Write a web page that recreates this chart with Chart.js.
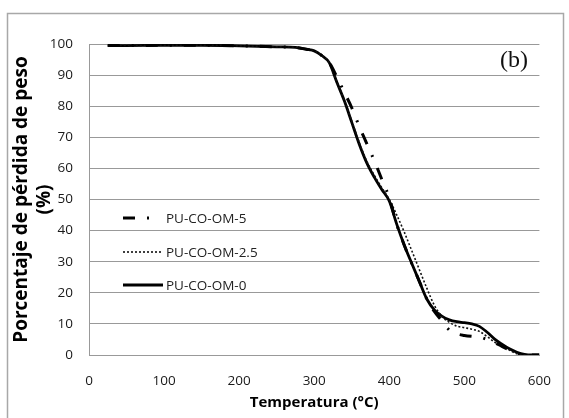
<!DOCTYPE html>
<html>
<head>
<meta charset="utf-8">
<script src="https://cdn.jsdelivr.net/npm/chart.js@4/dist/chart.umd.min.js"></script>
<style>
  html, body { margin: 0; padding: 0; background: #fff; }
  #wrap { width: 569px; height: 418px; }
</style>
</head>
<body>
<div id="wrap"><canvas id="c" width="569" height="418"></canvas></div>
<script>
// Temperature (°C)
const temps = [25, 50, 100, 150, 200, 250, 275, 290, 300, 310, 320, 330, 340, 350, 360, 370, 380, 390, 400, 410, 420, 430, 440, 450, 460, 470, 480, 490, 500, 510, 520, 530, 540, 550, 560, 570, 580, 590, 600];
// Porcentaje de pérdida de peso (%)
const om5  = [99.5, 99.5, 99.6, 99.6, 99.4, 99.1, 98.9, 98.3, 97.8, 96.3, 94, 89.5, 84.5, 79.5, 73.5, 68, 62.5, 56.5, 50.5, 42, 35.3, 29.4, 23.7, 18, 14, 11, 8, 6.8, 6.3, 6, 5.8, 5, 4, 2.8, 1.6, 0.6, 0, 0, 0];
const om25 = [99.5, 99.5, 99.6, 99.6, 99.4, 99.1, 98.9, 98.3, 97.8, 96.3, 94, 88, 82, 75.2, 68.3, 62.3, 57.8, 53.8, 50, 45, 39.5, 33.5, 27.5, 21.5, 16, 12.5, 10.5, 9.3, 8.8, 8.3, 7.6, 6, 4.2, 2.9, 1.6, 0.4, 0, 0, 0];
const om0  = [99.5, 99.5, 99.6, 99.6, 99.4, 99.1, 98.9, 98.3, 97.8, 96.3, 94, 87.8, 81.8, 74.8, 67.8, 61.8, 57.2, 53.2, 49.5, 42, 35.3, 29.4, 23.7, 18, 14.5, 12.5, 11.3, 10.7, 10.4, 10, 9.2, 7.4, 5.2, 3.5, 2, 0.9, 0.2, 0, 0];
const seriesLabels = ['PU-CO-OM-5', 'PU-CO-OM-2.5', 'PU-CO-OM-0'];
const xTickValues = [0, 100, 200, 300, 400, 500, 600];
const yTickValues = [0, 10, 20, 30, 40, 50, 60, 70, 80, 90, 100];
const panelLabel = '(b)';
const xTitle = 'Temperatura (°C)';
const yTitle = ['Porcentaje de pérdida de peso', '(%)'];

const toPts = vals => temps.map((t, i) => ({ x: t, y: vals[i] }));

const frame = {
  id: 'frame',
  beforeDraw(chart) {
    const ctx = chart.ctx;
    ctx.save();
    ctx.fillStyle = '#fff';
    ctx.fillRect(0, 0, chart.width, chart.height);
    ctx.strokeStyle = '#a8a8a8';
    ctx.lineWidth = 1.5;
    ctx.strokeRect(7.5, 13.5, 556, 430);
    ctx.restore();
  },
  afterDraw(chart) {
    const ctx = chart.ctx;
    ctx.save();
    // panel label
    ctx.fillStyle = '#111';
    ctx.font = '24px "Liberation Serif", "Times New Roman", serif';
    ctx.textAlign = 'center';
    ctx.textBaseline = 'middle';
    ctx.fillText(panelLabel, 514, 61);
    // legend
    const ys = [218, 252, 285];
    const ds = chart.data.datasets;
    ctx.font = '13.5px "Open Sans", sans-serif';
    ctx.textAlign = 'left';
    ds.forEach((d, i) => {
      ctx.save();
      ctx.strokeStyle = d.borderColor;
      ctx.lineWidth = d.borderWidth;
      ctx.setLineDash(d.borderDash || []);
      ctx.beginPath();
      ctx.moveTo(123, ys[i]);
      ctx.lineTo(i === 0 ? 152 : 163, ys[i]);
      ctx.stroke();
      ctx.restore();
      ctx.fillStyle = '#222';
      ctx.fillText(d.label, 166, ys[i] + 1);
    });
    ctx.restore();
  }
};

new Chart(document.getElementById('c'), {
  type: 'line',
  data: {
    datasets: [
      { label: seriesLabels[0], data: toPts(om5), borderColor: '#000', borderWidth: 3, borderDash: [12, 12, 2, 12], pointRadius: 0, cubicInterpolationMode: 'monotone', fill: false },
      { label: seriesLabels[1], data: toPts(om25), borderColor: '#111', borderWidth: 1.6, borderDash: [2, 2], pointRadius: 0, cubicInterpolationMode: 'monotone', fill: false },
      { label: seriesLabels[2], data: toPts(om0), borderColor: '#000', borderWidth: 2.8, pointRadius: 0, cubicInterpolationMode: 'monotone', fill: false }
    ]
  },
  options: {
    responsive: false,
    animation: false,
    events: [],
    layout: { padding: { left: 8, top: 44, right: 25, bottom: 0 } },
    plugins: { legend: { display: false }, tooltip: { enabled: false } },
    scales: {
      x: {
        type: 'linear', min: 0, max: 600,
        afterBuildTicks: s => { s.ticks = xTickValues.map(v => ({ value: v })); },
        afterFit: s => { s.height = 63; },
        grid: { display: false, drawTicks: false },
        border: { display: true, color: '#999', width: 1 },
        ticks: { color: '#1a1a1a', padding: 18, font: { family: '"Open Sans", sans-serif', size: 13.5 } },
        title: { display: true, text: xTitle, color: '#000', padding: { top: 0, bottom: 6 }, font: { family: '"Open Sans", sans-serif', size: 15, weight: 'bold', lineHeight: 1.2 } }
      },
      y: {
        min: 0, max: 100,
        afterBuildTicks: s => { s.ticks = yTickValues.map(v => ({ value: v })); },
        afterFit: s => { s.width = 81; },
        grid: { color: '#999', lineWidth: 1, drawTicks: false },
        border: { display: true, color: '#999', width: 1 },
        ticks: { color: '#1a1a1a', padding: 16, font: { family: '"Open Sans", sans-serif', size: 13.5 } },
        title: { display: true, text: yTitle, color: '#000', padding: { top: 2.5, bottom: 0 }, font: { family: '"Open Sans", sans-serif', size: 19, weight: 'bold', lineHeight: 1.2 } }
      }
    }
  },
  plugins: [frame]
});
</script>
</body>
</html>
